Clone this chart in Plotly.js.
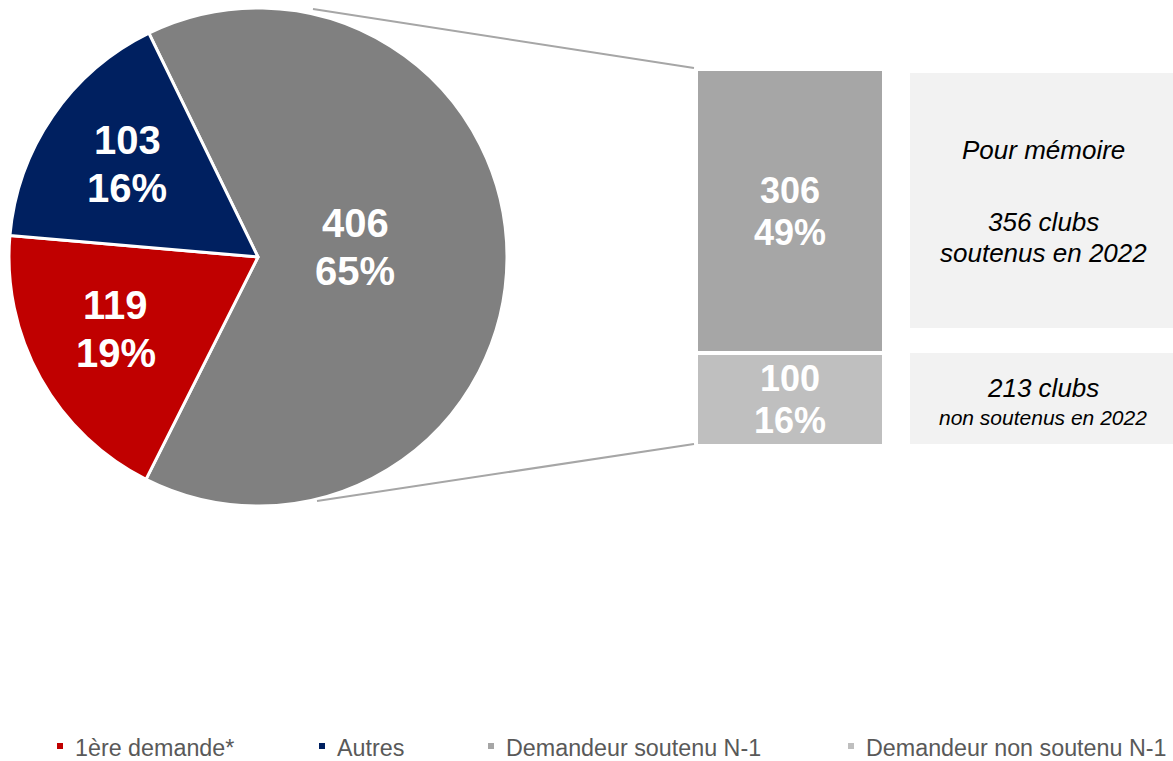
<!DOCTYPE html>
<html>
<head>
<meta charset="utf-8">
<script src="https://cdn.plot.ly/plotly-3.0.1.min.js"></script>
<style>html,body{margin:0;padding:0;background:#fff;}#chart{width:1173px;height:761px;}</style>
</head>
<body>
<div id="chart"></div>
<script>
// ---- data ----
const pieLabels = ['Demandeur N-1', '1ère demande*', 'Autres'];
const pieValues = [406, 119, 103];
const pieColors = ['#808080', '#c00000', '#002060'];

const barLabels = ['Demandeur non soutenu N-1', 'Demandeur soutenu N-1'];
const barValues = [100, 306];
const barColors = ['#bfbfbf', '#a6a6a6'];

const legendLabels = ['1ère demande*', 'Autres', 'Demandeur soutenu N-1', 'Demandeur non soutenu N-1'];
const legendColors = ['#c00000', '#002060', '#a6a6a6', '#bfbfbf'];

const memoTopLines = ['Pour mémoire', '356 clubs', 'soutenus en 2022'];
const memoBottomLines = ['213 clubs', 'non soutenus en 2022'];

// ---- layout helpers ----
const W = 1173, H = 761;
const px = x => x / W;
const py = y => 1 - y / H;
const FONT = 'Liberation Sans, Arial, sans-serif';

const total = pieValues.reduce((a, b) => a + b, 0);
const pct = v => Math.round(v / total * 100) + '%';

// pie geometry (pixels)
const pieCx = 258, pieCy = 257, pieR = 249;
const pieRotation = -26;
const labelRadius = [0.392, 0.64, 0.645];
const labelAngleShift = [-6.3, 2.3, 1.0];

const annotations = [];
const shapes = [];

// pie labels
let start = pieRotation;
pieValues.forEach((v, i) => {
  const span = v / total * 360;
  const mid = (start + span / 2 + labelAngleShift[i]) * Math.PI / 180;
  start += span;
  const lx = pieCx + pieR * labelRadius[i] * Math.sin(mid);
  const ly = pieCy - pieR * labelRadius[i] * Math.cos(mid);
  [[String(v), -24], [pct(v), 24]].forEach(([t, off]) => {
    annotations.push({
      xref: 'paper', yref: 'paper', x: px(lx), y: py(ly + off),
      text: '<b>' + t + '</b>', showarrow: false, xanchor: 'center', yanchor: 'middle',
      font: {family: FONT, size: 40, color: '#ffffff'}
    });
  });
});

// bar labels (computed from the data, in data coordinates)
const barTotal = barValues.reduce((a, b) => a + b, 0);
const unitPx = (446 - 69) / barTotal;
let cum = 0;
barValues.forEach(v => {
  const mid = cum + v / 2;
  cum += v;
  [[String(v), 21], [pct(v), -21]].forEach(([t, off]) => {
    annotations.push({
      xref: 'x', yref: 'y', x: 0, y: mid + off / unitPx,
      text: '<b>' + t + '</b>', showarrow: false, xanchor: 'center', yanchor: 'middle',
      font: {family: FONT, size: 36, color: '#ffffff'}
    });
  });
});

// memo boxes
shapes.push({type: 'rect', xref: 'paper', yref: 'paper', x0: px(910), x1: px(1173), y0: py(73), y1: py(328),
  fillcolor: '#f2f2f2', line: {width: 0}, layer: 'below'});
shapes.push({type: 'rect', xref: 'paper', yref: 'paper', x0: px(910), x1: px(1173), y0: py(353), y1: py(444),
  fillcolor: '#f2f2f2', line: {width: 0}, layer: 'below'});

const memoTopY = [150, 222, 253], memoTopSize = [26, 26, 26];
memoTopLines.forEach((t, i) => annotations.push({
  xref: 'paper', yref: 'paper', x: px(1043), y: py(memoTopY[i]), text: '<i>' + t + '</i>',
  showarrow: false, xanchor: 'center', yanchor: 'middle',
  font: {family: FONT, size: memoTopSize[i], color: '#000000'}
}));
const memoBotY = [388, 417], memoBotSize = [26, 21];
memoBottomLines.forEach((t, i) => annotations.push({
  xref: 'paper', yref: 'paper', x: px(1043), y: py(memoBotY[i]), text: '<i>' + t + '</i>',
  showarrow: false, xanchor: 'center', yanchor: 'middle',
  font: {family: FONT, size: memoBotSize[i], color: '#000000'}
}));

// connector lines
shapes.push({type: 'line', xref: 'paper', yref: 'paper', x0: px(313), y0: py(9), x1: px(694), y1: py(68),
  line: {color: '#a6a6a6', width: 2}});
shapes.push({type: 'line', xref: 'paper', yref: 'paper', x0: px(317), y0: py(501), x1: px(694), y1: py(444),
  line: {color: '#a6a6a6', width: 2}});

// legend
const legTextX = [73, 335, 504, 864];
legendLabels.forEach((t, i) => {
  const sx = legTextX[i] - 16;
  shapes.push({type: 'rect', xref: 'paper', yref: 'paper', x0: px(sx), x1: px(sx + 6), y0: py(743), y1: py(749),
    fillcolor: legendColors[i], line: {width: 0}});
  annotations.push({
    xref: 'paper', yref: 'paper', x: px(legTextX[i]), y: py(748), text: t,
    showarrow: false, xanchor: 'left', yanchor: 'middle',
    font: {family: FONT, size: 23.3, color: '#595959'}
  });
});

const traces = [
  {
    type: 'pie', labels: pieLabels, values: pieValues, sort: false, direction: 'clockwise',
    rotation: pieRotation, textinfo: 'none', hoverinfo: 'label+value+percent',
    marker: {colors: pieColors, line: {color: '#ffffff', width: 3}},
    domain: {x: [px(pieCx - pieR), px(pieCx + pieR)], y: [py(pieCy + pieR), py(pieCy - pieR)]},
    showlegend: false
  }
].concat(barValues.map((v, i) => ({
  type: 'bar', x: [0], y: [v], name: barLabels[i], width: 1,
  marker: {color: barColors[i], line: {color: '#ffffff', width: 4}},
  textposition: 'none', showlegend: false, hoverinfo: 'name+y'
})));

const layout = {
  width: W, height: H,
  margin: {l: 0, r: 0, t: 0, b: 0},
  paper_bgcolor: '#ffffff', plot_bgcolor: 'rgba(0,0,0,0)',
  barmode: 'stack', bargap: 0,
  showlegend: false,
  xaxis: {domain: [px(696), px(884)], range: [-0.5, 0.5], visible: false, fixedrange: true},
  yaxis: {domain: [py(446), py(69)], range: [0, barTotal], visible: false, fixedrange: true},
  shapes: shapes,
  annotations: annotations
};

Plotly.newPlot('chart', traces, layout, {displayModeBar: false, staticPlot: true});
</script>
</body>
</html>
